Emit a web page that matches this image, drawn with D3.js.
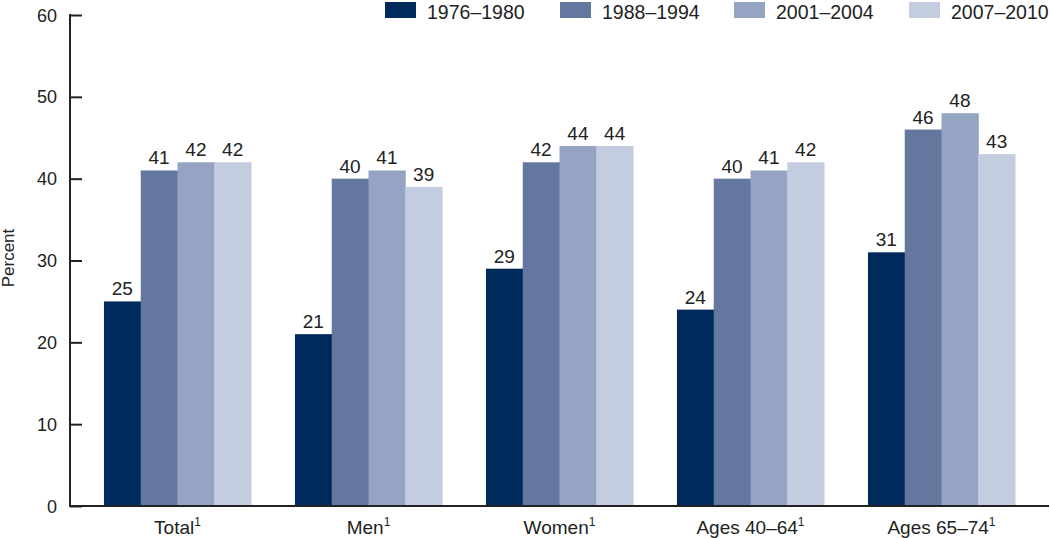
<!DOCTYPE html>
<html><head><meta charset="utf-8">
<script src="https://cdn.jsdelivr.net/npm/d3@7/dist/d3.min.js"></script>
<style>body{margin:0;background:#fff}svg{display:block}text{font-family:"Liberation Sans",Arial,sans-serif;fill:#222}</style>
</head><body><svg id="c" width="1050" height="538"></svg>
<script>
const categories = ["Total", "Men", "Women", "Ages 40–64", "Ages 65–74"];
const series = ["1976–1980", "1988–1994", "2001–2004", "2007–2010"];
const v1976 = [25, 21, 29, 24, 31];
const v1988 = [41, 40, 42, 40, 46];
const v2001 = [42, 41, 44, 41, 48];
const v2007 = [42, 39, 44, 42, 43];
const yTicks = [0, 10, 20, 30, 40, 50, 60];
const colors = ["#002a5c", "#63779f", "#96a4c4", "#c4cde0"];
const values = [v1976, v1988, v2001, v2007];

const svg = d3.select("#c");
const x0 = d3.scaleBand().domain(categories).range([82, 1037]).paddingInner(0.23).paddingOuter(0.115);
const x1 = d3.scaleBand().domain(series).range([0, x0.bandwidth()]);
const y = d3.scaleLinear().domain([0, 60]).range([506, 15]);
const color = d3.scaleOrdinal().domain(series).range(colors);

const g = svg.append("g");
categories.forEach((c, i) => {
  const gg = g.append("g").attr("transform", `translate(${x0(c)},0)`);
  series.forEach((s, j) => {
    const v = values[j][i];
    gg.append("rect").attr("x", x1(s)).attr("width", x1.bandwidth() + 0.5)
      .attr("y", y(v)).attr("height", y(0) - y(v)).attr("fill", color(s));
    gg.append("text").attr("x", x1(s) + x1.bandwidth() / 2).attr("y", y(v) - 6)
      .attr("text-anchor", "middle").attr("font-size", 19).text(v);
  });
});

// y axis
const yAxis = d3.axisRight(y).tickValues(yTicks).tickSize(12).tickFormat("");
const ya = svg.append("g").attr("transform", "translate(70,0)").call(yAxis);
ya.select(".domain").remove();
ya.selectAll(".tick line").attr("stroke", "#222").attr("stroke-width", 2);
svg.append("line").attr("x1", 70).attr("x2", 70).attr("y1", 14).attr("y2", 507).attr("stroke", "#222").attr("stroke-width", 2);
svg.append("line").attr("x1", 69).attr("x2", 1049).attr("y1", 506).attr("y2", 506).attr("stroke", "#222").attr("stroke-width", 2);
svg.selectAll(".ylab").data(yTicks).enter().append("text").attr("class", "ylab")
  .attr("x", 57).attr("y", d => y(d) + 6.5).attr("text-anchor", "end").attr("font-size", 18).text(d => d);

svg.append("text").attr("transform", "translate(14,258) rotate(-90)").attr("text-anchor", "middle")
  .attr("font-size", 17).text("Percent");

// category labels
categories.forEach(c => {
  const t = svg.append("text").attr("x", x0(c) + x0.bandwidth() / 2).attr("y", 534)
    .attr("text-anchor", "middle").attr("font-size", 19);
  t.append("tspan").text(c);
  t.append("tspan").attr("font-size", 12).attr("dy", -8).text("1");
});

// legend
const legX = [385, 560, 734, 909];
series.forEach((s, j) => {
  svg.append("rect").attr("x", legX[j]).attr("y", 2).attr("width", 31).attr("height", 16).attr("fill", color(s));
  svg.append("text").attr("x", legX[j] + 42).attr("y", 18.5).attr("font-size", 19.5).text(s);
});
</script></body></html>
